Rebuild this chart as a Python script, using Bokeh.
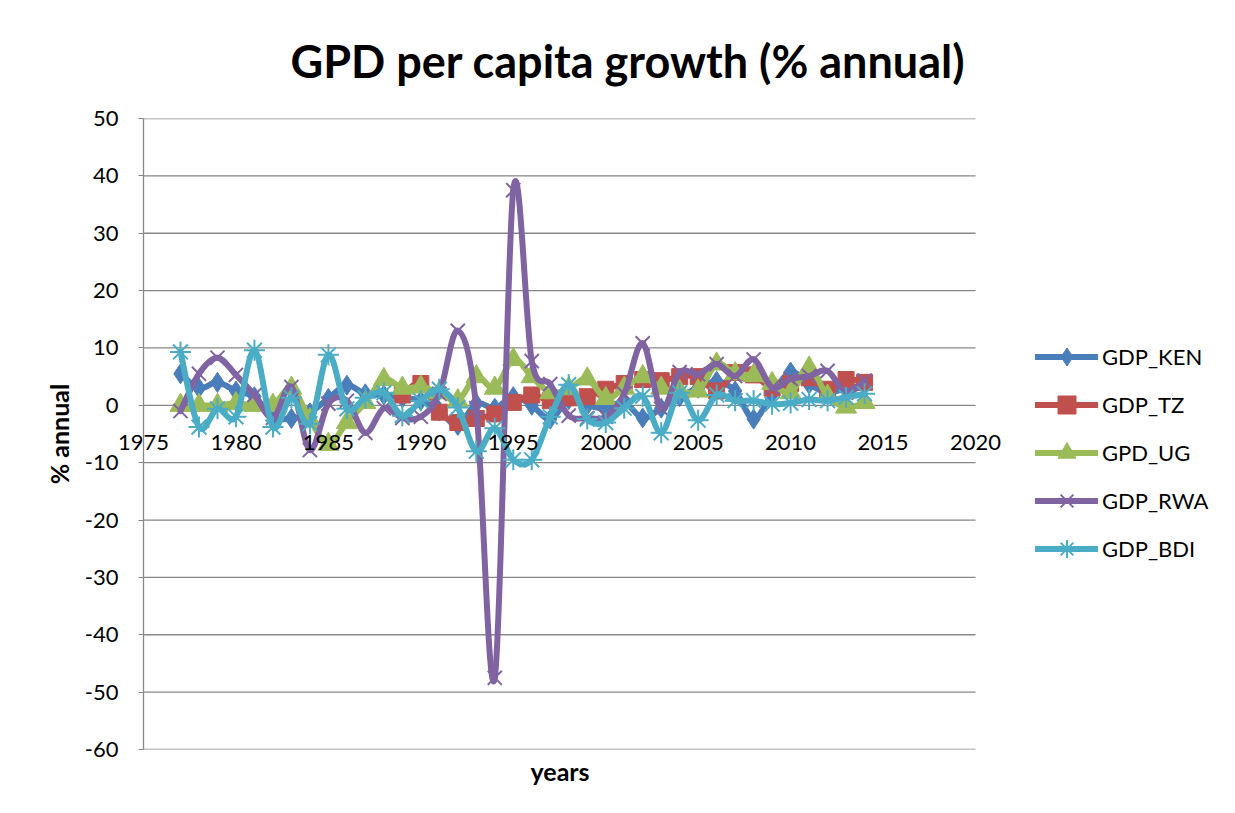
import numpy as np
from bokeh.plotting import figure
from bokeh.models import (Legend, LegendItem, FixedTicker, Range1d, Title,
                          PrintfTickFormatter)
from bokeh.embed import file_html
from bokeh.resources import INLINE

# ---------------- data ----------------
years = list(range(1977, 2015))
tz_years = list(range(1989, 2015))

gdp_ken = [5.5, 3.0, 4.0, 2.5, 1.5, -2.0, -2.3, -1.3, 1.2, 3.5,
           2.0, 1.8, 1.3, 0.8, -1.0, -3.5, 0.3, -0.5, 1.5, 0.0,
           -2.4, 1.0, 0.0, -0.5, 0.5, -2.2, -0.5, 1.5, 3.0, 4.2,
           2.5, -2.4, 2.0, 5.8, 3.7, 2.2, 3.0, 3.5]

gdp_tz = [1.8, 3.8, -1.2, -3.0, -2.3, -1.5, 0.5, 1.8, 0.8, 1.3,
          1.5, 2.8, 3.8, 4.5, 4.3, 5.0, 5.0, 2.5, 5.7, 5.3,
          3.0, 3.8, 4.8, 2.8, 4.5, 4.0]

gpd_ug = [0.0, 0.0, 0.0, 0.3, 0.0, 0.0, 3.0, -2.5, -6.8, -3.0,
          0.5, 4.5, 3.0, 3.2, 2.2, 0.8, 5.0, 3.0, 8.0, 5.0,
          2.2, 2.9, 4.6, 1.2, 3.0, 5.0, 3.0, 2.4, 2.5, 7.2,
          5.5, 5.2, 3.8, 2.2, 6.5, 1.6, -0.3, 0.5]

gdp_rwa = [-1.0, 5.5, 8.3, 5.3, 1.8, -2.2, 3.2, -7.8, 0.3, 0.8,
           -4.8, -0.5, -2.2, -2.0, 2.0, 13.0, -0.5, -47.5, 37.5, 7.7,
           3.7, -1.8, -2.2, -2.0, 2.0, 10.8, -0.6, 5.8, 5.4, 7.2,
           5.1, 8.0, 3.1, 4.6, 5.1, 6.0, 2.2, 4.3]

gdp_bdi = [9.3, -3.8, -0.6, -2.0, 9.6, -3.8, 1.3, -3.2, 8.8, -0.6,
           1.3, 2.2, -1.8, 0.8, 2.8, -0.4, -8.0, -4.0, -9.5, -9.5,
           -2.0, 3.6, -2.4, -3.0, -0.5, 1.6, -4.8, 2.2, -2.6, 1.8,
           0.8, 0.8, 0.2, 0.4, 1.0, 0.8, 1.4, 2.0]

x_ticks = [1975, 1980, 1985, 1990, 1995, 2000, 2005, 2010, 2015, 2020]
y_ticks = [-60, -50, -40, -30, -20, -10, 0, 10, 20, 30, 40, 50]

series = [
    ("GDP_KEN", years, gdp_ken, "#4A7EBB", "diamond", 20),
    ("GDP_TZ", tz_years, gdp_tz, "#C0504D", "square", 16),
    ("GPD_UG", years, gpd_ug, "#9BBB59", "triangle", 21),
    ("GDP_RWA", years, gdp_rwa, "#8064A2", "x", 20),
    ("GDP_BDI", years, gdp_bdi, "#4BACC6", "asterisk", 21),
]

FONT = "Lato"
GRID = "#878787"

# plot area spans the axis range 1975-2020; the legend sits to its right
X_MIN, X_MAX = x_ticks[0], x_ticks[-1]
PLOT_LEFT, PLOT_RIGHT = 143, 975
X_VIEW_END = X_MIN + (X_MAX - X_MIN) * (1235 - PLOT_LEFT) / (PLOT_RIGHT - PLOT_LEFT)


def smooth_segments(xs, ys):
    """Cubic Bezier control points (Catmull-Rom style, like Excel's smoothed line)."""
    xs = np.asarray(xs, float)
    ys = np.asarray(ys, float)
    n = len(xs)
    xp = np.concatenate([[xs[0]], xs, [xs[-1]]])
    yp = np.concatenate([[ys[0]], ys, [ys[-1]]])
    cx0 = xs[:-1] + (xp[2:n + 1] - xp[0:n - 1]) / 6.0
    cy0 = ys[:-1] + (yp[2:n + 1] - yp[0:n - 1]) / 6.0
    cx1 = xs[1:] - (xp[3:n + 2] - xp[1:n]) / 6.0
    cy1 = ys[1:] - (yp[3:n + 2] - yp[1:n]) / 6.0
    return dict(x0=xs[:-1], y0=ys[:-1], x1=xs[1:], y1=ys[1:],
                cx0=cx0, cy0=cy0, cx1=cx1, cy1=cy1)


p = figure(width=1235, height=813,
           x_range=Range1d(X_MIN, X_VIEW_END), y_range=Range1d(y_ticks[0], y_ticks[-1]),
           output_backend="svg", toolbar_location=None,
           min_border_left=PLOT_LEFT, min_border_right=0,
           min_border_top=117, min_border_bottom=64)

p.outline_line_color = None
p.background_fill_color = "white"
p.border_fill_color = "white"

# title
p.title.text = "GPD per capita growth (% annual)"
p.title.align = "left"
p.title.offset = 147
p.title.text_font = FONT
p.title.text_font_size = "45px"
p.title.text_font_style = "bold"
p.title.text_color = "black"
p.title.standoff = 62

# horizontal gridlines only across the 1975-2020 axis span
p.xgrid.visible = False
p.ygrid.visible = False
p.segment(x0=X_MIN, x1=X_MAX, y0=y_ticks, y1=y_ticks,
          line_color=GRID, line_width=1.3)

# y axis
ya = p.yaxis[0]
ya.ticker = FixedTicker(ticks=y_ticks)
ya.formatter = PrintfTickFormatter(format="%d")
ya.axis_line_color = GRID
ya.axis_line_width = 1.3
ya.major_tick_line_color = GRID
ya.major_tick_out = 5
ya.major_tick_in = 0
ya.minor_tick_line_color = None
ya.major_label_text_font = FONT
ya.major_label_text_font_size = "22px"
ya.major_label_text_color = "black"
ya.major_label_standoff = 20
ya.axis_label = "% annual"
ya.axis_label_text_font = FONT
ya.axis_label_text_font_size = "25px"
ya.axis_label_text_font_style = "bold"
ya.axis_label_text_color = "black"
ya.axis_label_standoff = 8

# "years" title directly under the plot area, centred on the 1975-2020 span
years_title = Title(text="years", align="left", offset=387, text_font=FONT,
                    text_font_size="25px", text_font_style="bold",
                    text_color="black", standoff=9)

# x axis: tick labels drawn next to the zero line
xa = p.xaxis[0]
xa.bounds = (X_MIN, X_MAX)
xa.ticker = FixedTicker(ticks=x_ticks)
xa.formatter = PrintfTickFormatter(format="%d")
xa.axis_line_color = None
xa.major_tick_line_color = None
xa.major_tick_out = 0
xa.major_tick_in = 0
xa.minor_tick_line_color = None
xa.minor_tick_out = 0
xa.major_label_text_font = FONT
xa.major_label_text_font_size = "22px"
xa.major_label_text_color = "black"
xa.major_label_standoff = -356
xa.axis_label = None

p.below = [years_title] + list(p.below)

items = []
for name, xs, ys, color, marker, size in series:
    seg = smooth_segments(xs, ys)
    r_line = p.bezier(x0=seg["x0"], y0=seg["y0"], x1=seg["x1"], y1=seg["y1"],
                      cx0=seg["cx0"], cy0=seg["cy0"], cx1=seg["cx1"], cy1=seg["cy1"],
                      line_color=color, line_width=6, line_cap="round")
    if marker in ("x", "asterisk"):
        r_mark = p.scatter(xs, ys, marker=marker, size=size, line_color=color,
                           line_width=2)
    else:
        r_mark = p.scatter(xs, ys, marker=marker, size=size, fill_color=color,
                           line_color=color, line_width=1)
    items.append(LegendItem(label=name, renderers=[r_line, r_mark]))

legend = Legend(items=items, location=(892, 178), padding=0, spacing=3,
                glyph_width=63, glyph_height=45, label_height=24,
                label_standoff=4, label_text_font=FONT,
                label_text_font_size="22px", label_text_color="black",
                background_fill_alpha=0, border_line_alpha=0, margin=0)
p.add_layout(legend, "center")

open("out.html", "w").write(file_html(p, INLINE))
